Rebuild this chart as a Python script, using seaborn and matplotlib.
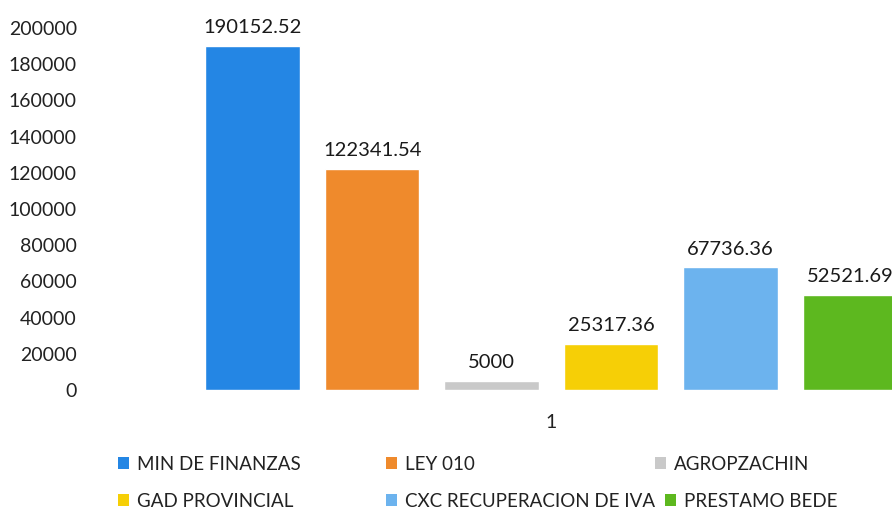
import matplotlib.pyplot as plt
import pandas as pd
import seaborn as sns
from matplotlib.patches import Patch

# Data
categories = ["1"]
series = ["MIN DE FINANZAS", "LEY 010", "AGROPZACHIN",
          "GAD PROVINCIAL", "CXC RECUPERACION DE IVA", "PRESTAMO BEDE"]
values = [190152.52, 122341.54, 5000, 25317.36, 67736.36, 52521.69]
colors = ["#2486e4", "#ef8a2c", "#c9c9c9", "#f6cf06", "#6cb3ee", "#5db81f"]
value_labels = ["190152.52", "122341.54", "5000", "25317.36", "67736.36", "52521.69"]

df = pd.DataFrame({"cat": categories * len(series), "serie": series, "valor": values})

sns.set_style("white")
plt.rcParams["font.family"] = ["Lato", "DejaVu Sans"]

fig = plt.figure(figsize=(8.92, 5.12), dpi=100)
ax = fig.add_axes([88 / 892, 1 - 390 / 512, 1 - 88 / 892, (390 - 28) / 512])

sns.barplot(data=df, x="cat", y="valor", hue="serie", hue_order=series,
            palette=colors, saturation=1, gap=0.21, width=0.8,
            legend=False, ax=ax)

for cont, lab in zip(ax.containers, value_labels):
    ax.bar_label(cont, labels=[lab], padding=7, fontsize=14.5, color="#1a1a1a")

ax.set_ylim(0, 200000)
ax.set_yticks(range(0, 200001, 20000))
ax.set_xlim(-0.517, 0.38)
ax.set_xlabel("")
ax.set_ylabel("")
ax.tick_params(axis="both", length=0, labelsize=14, colors="#222222")
ax.tick_params(axis="x", pad=17)
ax.tick_params(axis="y", pad=8)
sns.despine(ax=ax, left=True, bottom=True)

# legend: one entry per slot, placed like the original (row 2 of the
# last column sits a little further right, after the long CXC label)
slots = [(118, 456), (386, 456), (655, 456),
         (118, 493), (386, 493), (665, 493)]
for name, col, (x, y) in zip(series, colors, slots):
    fig.legend([Patch(facecolor=col, edgecolor="none")], [name],
               loc="upper left", bbox_to_anchor=(x / 892, 1 - y / 512),
               frameon=False, fontsize=13.5, handlelength=0.6,
               handleheight=0.6, handletextpad=0.4, borderpad=0,
               borderaxespad=0, labelcolor="#222222")

fig.savefig("out.png", dpi=100)
plt.close(fig)
